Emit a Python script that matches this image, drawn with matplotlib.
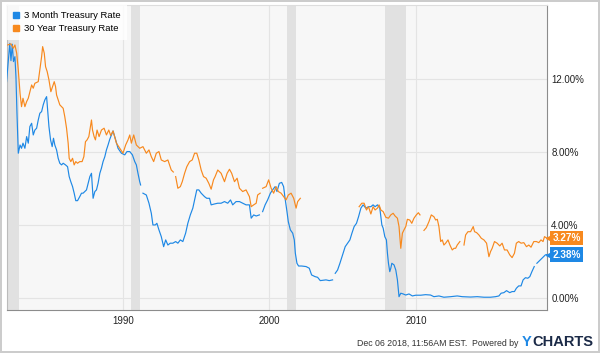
import numpy as np
import matplotlib
matplotlib.use("Agg")
import matplotlib.pyplot as plt
from matplotlib.lines import Line2D

nan = np.nan

# 3 month treasury rate (decimal year, %), nan = gap in the line
bill_years = [1982.08, 1982.2, 1982.3, 1982.38, 1982.47, 1982.55, 1982.65, 1982.72, 1982.79, 1982.88,
              1983.0, 1983.1, 1983.2, 1983.33, 1983.45, 1983.56, 1983.67, 1983.79, 1983.9,
              1984.01, 1984.13, 1984.24, 1984.35, 1984.47, 1984.58, 1984.69, 1984.81, 1984.88, 1984.97,
              1985.08, 1985.19, 1985.28, 1985.37, 1985.49, 1985.6, 1985.71, 1985.83, 1985.94,
              1986.1, 1986.24, 1986.35, 1986.46, 1986.58, 1986.69, 1986.8, 1986.92,
              1987.07, 1987.19, 1987.3, 1987.41, 1987.53, 1987.64, 1987.76, 1987.87, 1987.98,
              1988.1, 1988.21, 1988.32, 1988.44, 1988.55, 1988.66, 1988.78, 1988.89,
              1989.0, 1989.12, 1989.23, 1989.34, 1989.52, 1989.68, 1989.91,
              1990.14, 1990.29, 1990.48, 1990.66, 1990.82, 1990.93,
              1991.04, 1991.16, 1991.22, 1991.3, 1991.38, 1991.61, 1991.79, 1991.95,
              1992.06, 1992.22, 1992.33, 1992.47, 1992.63, 1992.79, 1992.93,
              1993.08, 1993.24, 1993.42, 1993.61, 1993.76, 1993.93,
              1994.1, 1994.29, 1994.44, 1994.61, 1994.78, 1994.9,
              1995.05, 1995.19, 1995.35, 1995.58, 1995.73, 1995.92,
              1996.03, 1996.26, 1996.48, 1996.71, 1996.94,
              1997.16, 1997.35, 1997.5, 1997.73, 1997.96,
              1998.18, 1998.41, 1998.64, 1998.76, 1998.93,
              1999.1, 1999.32, 1999.43, 1999.54, 1999.71, 1999.88,
              2000.07, 2000.22, 2000.39, 2000.52, 2000.68, 2000.84, 2000.97,
              2001.07, 2001.2, 2001.29, 2001.43, 2001.59, 2001.7, 2001.77, 2001.88, 2001.99,
              2002.2, 2002.5, 2002.72, 2002.88,
              2003.11, 2003.29, 2003.47, 2003.69, 2003.86,
              2004.08, 2004.31, 2004.4, 2004.49, 2004.65, 2004.81, 2004.99,
              2005.17, 2005.33, 2005.49, 2005.63, 2005.78, 2005.94,
              2006.08, 2006.24, 2006.39, 2006.58, 2006.76, 2006.92,
              2007.07, 2007.21, 2007.37, 2007.53, 2007.67, 2007.76, 2007.87, 2007.98,
              2008.05, 2008.12, 2008.21, 2008.28, 2008.35, 2008.5, 2008.62, 2008.73, 2008.84, 2008.96,
              2009.12, 2009.3, 2009.52, 2009.75, 2009.98,
              2010.32, 2010.65, 2010.99, 2011.22, 2011.56, 2011.9,
              2012.36, 2012.81, 2013.15, 2013.72, 2014.17, 2014.63,
              2015.08, 2015.42, 2015.65, 2015.8, 2015.99,
              2016.17, 2016.39, 2016.55, 2016.71, 2016.84,
              2017.0, 2017.16, 2017.3, 2017.46, 2017.62, 2017.76, 2017.9,
              2018.06, 2018.15, 2018.24, 2018.47, 2018.66, 2018.82, 2018.93]
bill_rates = [11.85, 13.0, 13.95, 13.0, 13.9, 12.95, 13.22, 12.13, 10.12, 7.93,
              8.38, 8.2, 8.48, 8.2, 8.84, 8.48, 9.39, 9.57, 8.93,
              9.2, 9.3, 9.75, 10.12, 10.21, 10.58, 10.85, 11.03, 10.3, 9.39,
              8.66, 8.29, 8.75, 8.38, 8.11, 7.65, 7.38, 7.29, 7.38,
              7.29, 7.19, 6.65, 6.37, 6.1, 5.74, 5.33, 5.33,
              5.55, 5.74, 5.74, 5.83, 5.92, 6.28, 6.65, 6.83, 5.46,
              5.83, 5.92, 6.28, 6.83, 7.11, 7.47, 7.74, 8.11,
              8.38, 8.7, 8.93, 9.15, 8.66, 8.2, 7.93,
              7.84, 8.02, 8.02, 7.84, 7.47, 7.29,
              6.83, 6.37, 6.19, nan, 5.74, 5.64, 5.19, 4.64,
              4.0, 4.0, 4.09, 3.73, 3.36, 2.81, 3.18,
              2.9, 3.0, 3.0, 3.09, 3.0, 3.18,
              3.09, 3.55, 4.09, 4.55, 4.92, 5.37,
              5.92, 5.92, 5.74, 5.55, 5.46, 5.46,
              5.1, 5.15, 5.19, 5.19, 5.28,
              5.19, 5.37, 5.1, 5.28, 5.28,
              5.19, 5.1, 5.1, 4.37, 4.55,
              4.49, 4.55, nan, 4.73, 5.1, 5.37,
              5.74, 5.92, 6.1, 5.83, 6.28, 6.33, 6.1,
              5.46, 4.73, 4.18, 3.73, 3.55, 3.18, 2.45, 1.9, 1.75,
              1.75, 1.72, 1.63, 1.26,
              1.17, 1.13, 0.95, 0.97, 0.99,
              0.95, 0.99, nan, 1.35, 1.53, 1.9, 2.36,
              2.81, 3.0, 3.18, 3.55, 3.91, 4.09,
              4.45, 4.92, 5.1, 4.92, 5.0, 5.0,
              5.1, 5.0, 5.1, 4.92, 4.0, 3.82, 3.36, 3.18,
              2.45, 1.9, 1.44, 1.63, 1.9, 1.81, 1.53, 0.99, 0.07, 0.26,
              0.22, 0.16, 0.22, 0.11, 0.15,
              0.15, 0.18, 0.16, 0.07, 0.11, 0.04,
              0.07, 0.11, 0.07, 0.05, 0.07, 0.04,
              0.04, 0.07, 0.11, 0.26, 0.29,
              0.4, 0.29, 0.35, 0.35, 0.53,
              0.66, 0.66, 0.99, 1.11, 1.08, 1.17, 1.44,
              1.72, nan, 1.9, 2.08, 2.23, 2.36, 2.38]

# 30 year treasury rate (not published 2002-2006)
bond_years = [1982.16, 1982.38, 1982.54, 1982.65, 1982.77, 1982.88,
              1983.0, 1983.1, 1983.2, 1983.33, 1983.45, 1983.56, 1983.67, 1983.79, 1983.9,
              1984.01, 1984.24, 1984.35, 1984.47, 1984.54, 1984.65, 1984.74, 1984.85, 1984.97,
              1985.1, 1985.22, 1985.33, 1985.42, 1985.49, 1985.6, 1985.71, 1985.83, 1985.94,
              1986.05, 1986.17, 1986.28, 1986.35, 1986.46, 1986.58, 1986.69, 1986.8, 1986.92,
              1987.07, 1987.23, 1987.35, 1987.46, 1987.57, 1987.69, 1987.8, 1987.87, 1987.94,
              1988.05, 1988.14, 1988.25, 1988.39, 1988.55, 1988.73, 1988.89,
              1989.05, 1989.18, 1989.34, 1989.57, 1989.8,
              1990.02, 1990.2, 1990.36, 1990.48, 1990.59, 1990.75, 1990.93,
              1991.16, 1991.38, 1991.61, 1991.79, 1991.95,
              1992.11, 1992.29, 1992.47, 1992.63, 1992.86,
              1993.08, 1993.31, 1993.45, 1993.5, 1993.61, 1993.76, 1993.93,
              1994.06, 1994.22, 1994.37, 1994.56, 1994.74, 1994.9,
              1995.05, 1995.19, 1995.35, 1995.51, 1995.69, 1995.87,
              1996.03, 1996.19, 1996.3, 1996.48, 1996.71, 1996.94,
              1997.12, 1997.28, 1997.43, 1997.62, 1997.8, 1997.96,
              1998.18, 1998.41, 1998.64, 1998.76, 1998.93,
              1999.1, 1999.2, 1999.37, 1999.45, 1999.54, 1999.78, 1999.95,
              2000.12, 2000.29, 2000.46, 2000.61, 2000.8, 2000.97,
              2001.14, 2001.29, 2001.48, 2001.66, 2001.82, 2001.93, 2002.11,
              2004.0,
              2006.12, 2006.3, 2006.46, 2006.62, 2006.76, 2006.92,
              2007.07, 2007.21, 2007.37, 2007.48, 2007.6, 2007.76, 2007.94,
              2008.12, 2008.28, 2008.44, 2008.57, 2008.73, 2008.84, 2008.96,
              2009.07, 2009.18, 2009.3, 2009.41, 2009.57, 2009.71, 2009.86,
              2010.02, 2010.16, 2010.27, 2010.4, 2010.54, 2010.7, 2010.88,
              2011.04, 2011.22, 2011.34, 2011.45, 2011.56, 2011.68, 2011.79, 2011.9,
              2012.02, 2012.18, 2012.31, 2012.47, 2012.59, 2012.7, 2012.81, 2012.99,
              2013.13, 2013.27, 2013.38, 2013.54, 2013.72, 2013.9, 2013.99,
              2014.13, 2014.29, 2014.45, 2014.63, 2014.81, 2014.97,
              2015.08, 2015.19, 2015.35, 2015.53, 2015.71, 2015.87,
              2016.03, 2016.21, 2016.39, 2016.55, 2016.71, 2016.84,
              2017.0, 2017.16, 2017.35, 2017.53, 2017.69, 2017.84,
              2018.03, 2018.21, 2018.37, 2018.52, 2018.66, 2018.76, 2018.93]
bond_rates = [13.86, 13.92, 13.68, 13.86, 13.41, 12.49,
              11.2, 10.48, 10.94, 10.48, 10.76, 10.94, 11.3, 11.67, 11.49,
              11.76, 11.85, 12.49, 13.22, 13.77, 13.41, 12.67, 12.4, 11.95,
              11.3, 11.58, 11.85, 11.58, 11.12, 10.85, 10.58, 10.48, 10.39,
              9.93, 9.3, 8.48, 7.65, 7.47, 7.65, 7.29, 7.47, 7.38,
              7.47, 7.47, 7.74, 8.56, 8.66, 8.84, 9.39, 9.75, 9.2,
              8.84, 8.66, 9.2, 8.84, 9.2, 9.3, 8.93,
              9.2, 8.9, 9.15, 8.48, 8.2,
              7.93, 8.38, 8.66, 8.93, 8.48, 8.93, 8.38,
              8.2, 8.29, 7.93, 8.11, 7.74,
              7.47, 7.93, 8.02, 7.56, 7.47,
              7.56, 7.01, 6.9, nan, 6.65, 6.01, 6.1,
              6.37, 6.83, 7.19, 7.47, 7.56, 7.93,
              7.93, 7.56, 7.01, 6.65, 6.56, 6.28,
              5.96, 6.47, 6.65, 7.01, 6.83, 6.37,
              6.83, 7.05, 6.83, 6.37, 6.56, 6.01,
              5.83, 5.92, 5.55, 5.0, 5.1,
              5.19, 5.64, 5.74, nan, 6.01, 6.1, 6.47,
              6.01, 5.74, 6.1, 5.83, 5.74, 5.55,
              5.37, 5.64, 5.74, 5.46, 4.92, 5.28, 5.46,
              nan,
              5.0, 5.19, 5.19, 4.82, 5.0, 4.6,
              5.0, 4.82, 4.92, 5.1, 4.82, 4.73, 4.42,
              4.37, 4.55, 4.64, 4.49, 4.37, 3.91, 2.72,
              3.55, 3.73, 3.91, 4.31, 4.27, 4.09, 4.37,
              4.55, 4.67, 4.55, nan, 3.7, 3.85, 4.18,
              4.55, 4.45, 4.27, 4.31, 3.91, 3.09, 3.18, 2.9,
              3.0, 3.18, 2.9, 2.63, 2.72, 2.72, 2.9, 3.09,
              nan, 2.9, 3.45, 3.63, 3.63, 3.91, 3.63,
              3.58, 3.45, 3.27, 3.18, 3.0, 2.26,
              2.54, 2.72, 3.09, 3.0, 2.85, 3.0,
              2.63, 2.63, 2.36, 2.21, 2.45, 3.0,
              3.09, 3.0, 3.03, 2.81, 2.9, 2.78,
              3.09, 3.09, 3.03, 3.18, 3.09, 3.36, 3.27]

# recession periods (shaded)
recession_start = [1981.5, 1990.59, 2001.18, 2007.9]
recession_end = [1982.93, 1991.2, 2001.82, 2009.33]

blue = '#1e88e5'
orange = '#f7891e'

plt.rcParams['font.family'] = ['Liberation Sans', 'DejaVu Sans']

fig = plt.figure(figsize=(6, 3.53), dpi=100)
fig.patch.set_edgecolor('#cccccc')
fig.patch.set_linewidth(1.5)
ax = fig.add_axes([7 / 600, 1 - 310 / 353, 540 / 600, 305 / 353])
ax.set_facecolor('#f7f7f7')

for s, e in zip(recession_start, recession_end):
    ax.axvspan(s, e, color='#e1e1e1', lw=0, zorder=1)

ax.plot(bill_years, bill_rates, color=blue, lw=0.85, zorder=3)
ax.plot(bond_years, bond_rates, color=orange, lw=0.85, zorder=3)

ax.set_xlim(1982.11, 2018.93)
ax.set_ylim(-0.66, 16.05)

ax.set_xticks([1990, 2000, 2010])
ax.set_xticklabels(['1990', '2000', '2010'])
ax.set_yticks([0, 4, 8, 12])
ax.set_yticklabels(['0.00%', '4.00%', '8.00%', '12.00%'])
ax.yaxis.tick_right()
ax.tick_params(axis='both', length=0, labelsize=7.0, colors='#222222')
ax.tick_params(axis='y', pad=3)
ax.tick_params(axis='x', pad=4)
ax.grid(True, color='#e4e4e4', lw=0.8, zorder=0)
ax.set_axisbelow(True)

for side in ['left', 'bottom', 'right']:
    ax.spines[side].set_color('#8c8c8c')
    ax.spines[side].set_linewidth(0.8)
ax.spines['left'].set_color('#bbbbbb')
ax.spines['top'].set_color('#dddddd')

# legend
handles = [Line2D([], [], marker='s', ls='none', color=blue, markersize=4.2),
           Line2D([], [], marker='s', ls='none', color=orange, markersize=4.2)]
leg = ax.legend(handles, ['3 Month Treasury Rate', '30 Year Treasury Rate'],
                loc='upper left', borderaxespad=0, fontsize=6.8, handlelength=0.7,
                handletextpad=0.45, labelspacing=0.45, borderpad=0.65,
                fancybox=False, framealpha=0.8, facecolor='white', edgecolor='none')
leg.set_zorder(5)

# last value tags on the right
ytrans = ax.get_yaxis_transform()
for val, col in [(bond_rates[-1], orange), (bill_rates[-1], blue)]:
    ax.text(1.0105, val, '%.2f%%' % val, transform=ytrans, ha='left', va='center',
            fontsize=7.2, fontweight='bold', color='white', clip_on=False,
            bbox=dict(boxstyle='square,pad=0.22', fc=col, ec='none'))
    ax.plot([1.004], [val], marker='<', markersize=5, color=col, transform=ytrans,
            clip_on=False, zorder=6)

# footer
fig.text(518 / 600, 1 - 343 / 353, 'Dec 06 2018, 11:56AM EST.  Powered by',
         ha='right', va='center', fontsize=6.3, color='#333333')
fig.text(522 / 600, 1 - 342 / 353, 'Y', ha='left', va='center', fontsize=10.5,
         fontweight='bold', color='#1e88e5')
fig.text(593 / 600, 1 - 342 / 353, 'CHARTS', ha='right', va='center', fontsize=10.5,
         fontweight='bold', color='#1b2a47')

fig.savefig('out.png', dpi=100)
